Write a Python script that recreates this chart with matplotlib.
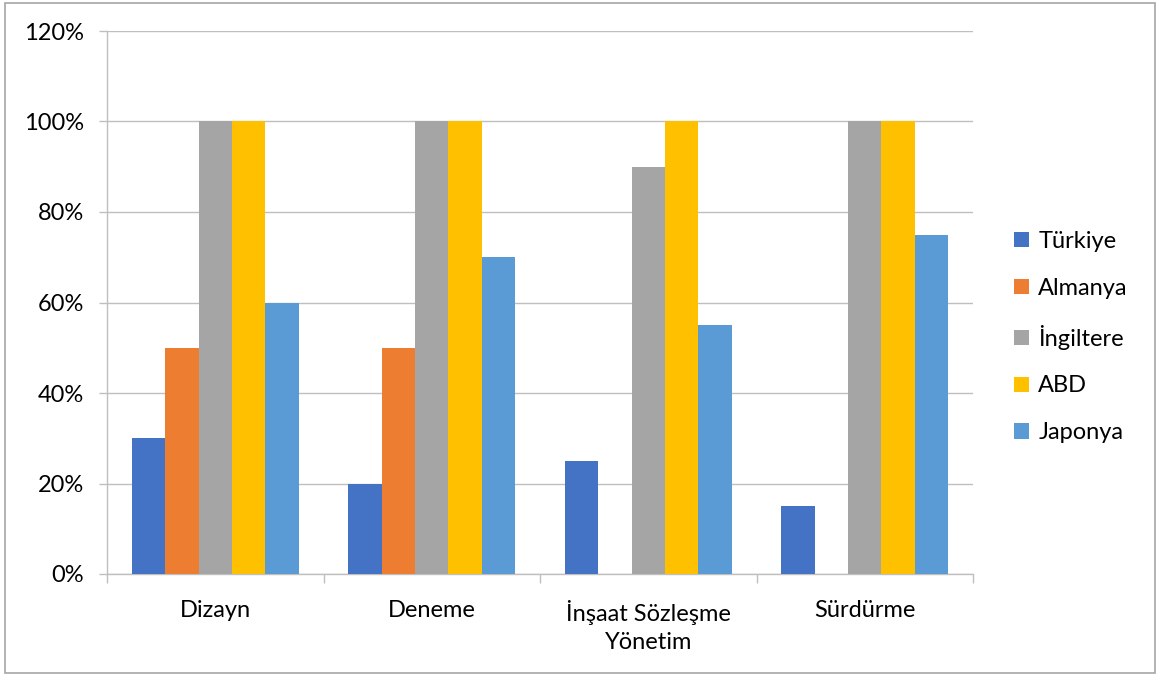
import matplotlib
matplotlib.use("Agg")
import matplotlib.pyplot as plt
import numpy as np
from matplotlib.patches import Rectangle
from matplotlib.ticker import FixedLocator, NullFormatter

plt.rcParams["font.family"] = ["Lato", "DejaVu Sans"]

categories = ["Dizayn", "Deneme", "İnşaat Sözleşme\nYönetim", "Sürdürme"]
series = ["Türkiye", "Almanya", "İngiltere", "ABD", "Japonya"]
turkiye = [30, 20, 25, 15]
almanya = [50, 50, 0, 0]
ingiltere = [100, 100, 90, 100]
abd = [100, 100, 100, 100]
japonya = [60, 70, 55, 75]
values = [turkiye, almanya, ingiltere, abd, japonya]
colors = ["#4472C4", "#ED7D31", "#A5A5A5", "#FFC000", "#5B9BD5"]
y_ticks = [0, 20, 40, 60, 80, 100, 120]

W, H = 1162, 675
FS = 17
fig = plt.figure(figsize=(W / 100, H / 100), dpi=100)
ax = fig.add_axes([107 / W, 1 - 574 / H, (973 - 107) / W, (574 - 31) / H])

n = len(series)
bar_w = 0.154
x = np.arange(len(categories))
for i, (name, vals, col) in enumerate(zip(series, values, colors)):
    offs = (i - (n - 1) / 2) * bar_w
    ax.bar(x + offs, vals, width=bar_w, color=col, label=name, zorder=3)

ax.set_xlim(-0.5, len(categories) - 0.5)
ax.set_ylim(0, 120)
ax.set_yticks(y_ticks)
ax.set_yticklabels([f"{v}%" for v in y_ticks])
ax.set_xticks(x)
ax.set_xticklabels(categories, linespacing=1.42)
ax.xaxis.set_minor_locator(FixedLocator(np.arange(-0.5, len(categories), 1.0)))
ax.xaxis.set_minor_formatter(NullFormatter())

grid_col = "#BFBFBF"
ax.yaxis.grid(True, color=grid_col, linewidth=1.0, zorder=0)
for s in ["top", "right"]:
    ax.spines[s].set_visible(False)
for s in ["left", "bottom"]:
    ax.spines[s].set_color(grid_col)
    ax.spines[s].set_linewidth(1.0)

ax.tick_params(axis="y", length=5.8, color=grid_col, width=1.0, pad=11,
               labelsize=FS, labelcolor="#000000")
ax.tick_params(axis="x", which="major", length=0, pad=18.5, labelsize=FS,
               labelcolor="#000000")
ax.tick_params(axis="x", which="minor", length=6.5, color=grid_col, width=1.0)

leg = ax.legend(loc="center left", bbox_to_anchor=(993 / W, 1 - 337 / H),
                bbox_transform=fig.transFigure, frameon=False, fontsize=FS,
                handlelength=0.62, handleheight=0.62, handletextpad=0.4,
                labelspacing=1.1)

fig.patches.append(Rectangle((5 / W, 1 - 673 / H), 1150 / W, 670 / H,
                             transform=fig.transFigure, fill=False,
                             edgecolor="#A6A6A6", linewidth=1.2))

fig.savefig("out.png", dpi=100)
